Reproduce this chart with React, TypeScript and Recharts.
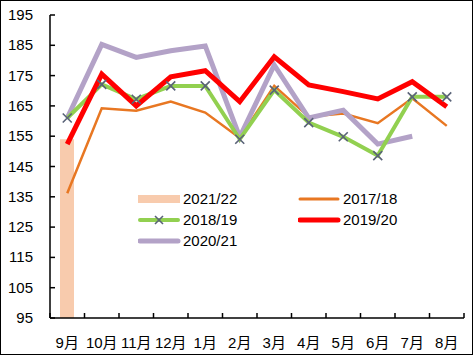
import React from "react";
import {
  ComposedChart,
  Bar,
  Line,
  XAxis,
  YAxis,
} from "recharts";

const months = ["9月", "10月", "11月", "12月", "1月", "2月", "3月", "4月", "5月", "6月", "7月", "8月"];
const s2122 = [154, null, null, null, null, null, null, null, null, null, null, null];
const s1718 = [136.2, 164.2, 163.4, 166.4, 162.8, 154.4, 171.6, 161.4, 162.5, 159.3, 167.5, 158.4];
const s1819 = [161, 172.1, 167.2, 171.6, 171.6, 154, 170.2, 159.5, 154.8, 148.6, 168, 168];
const s1920 = [152.4, 175.5, 165, 174.6, 176.6, 166.4, 181.2, 171.9, 169.7, 167.3, 173, 164.7];
const s2021 = [161, 185.3, 181, 183.2, 184.8, 154.7, 178.5, 161, 163.6, 152.4, 155, null];
const yTicks = [95, 105, 115, 125, 135, 145, 155, 165, 175, 185, 195];

const data = months.map((m, i) => ({
  month: m,
  "2021/22": s2122[i],
  "2017/18": s1718[i],
  "2018/19": s1819[i],
  "2019/20": s1920[i],
  "2020/21": s2021[i],
}));

const FONT = "'Liberation Sans', 'Noto Sans CJK SC', sans-serif";
const MARKER = "#5A6378";

const XMark = ({ cx, cy, size = 4.5 }: any) => {
  if (cx == null || cy == null) return null;
  return (
    <path
      d={`M${cx - size},${cy - size}L${cx + size},${cy + size}M${cx - size},${cy + size}L${cx + size},${cy - size}`}
      stroke={MARKER}
      strokeWidth={1.6}
      fill="none"
    />
  );
};

const XTick = (props: any) => {
  const { x, y, payload, index, visibleTicksCount, width } = props;
  const half = payload.offset ?? (width && visibleTicksCount ? width / visibleTicksCount / 2 : 17);
  return (
    <g>
      <line x1={x - half} x2={x - half} y1={y} y2={y - 5} stroke="#000" strokeWidth={1.5} />
      {index === visibleTicksCount - 1 && (
        <line x1={x + half} x2={x + half} y1={y} y2={y - 5} stroke="#000" strokeWidth={1.5} />
      )}
      <text x={x} y={y + 30} textAnchor="middle" fontSize={15} fontFamily={FONT} fill="#000">
        {payload.value}
      </text>
    </g>
  );
};

const YTick = (props: any) => {
  const { x, y, payload } = props;
  return (
    <g>
      <line x1={x} x2={x + 5} y1={y} y2={y} stroke="#000" strokeWidth={1.5} />
      <text x={x - 17} y={y + 5} textAnchor="end" fontSize={15} fontFamily={FONT} fill="#000">
        {payload.value}
      </text>
    </g>
  );
};

const legendItems = [
  { name: "2021/22", left: 138, top: 199, kind: "bar", color: "#F8CBAD", w: 8 },
  { name: "2017/18", left: 298, top: 199, kind: "line", color: "#E87722", w: 3 },
  { name: "2018/19", left: 138, top: 220, kind: "marker", color: "#92D050", w: 4 },
  { name: "2019/20", left: 298, top: 220, kind: "line", color: "#FF0000", w: 5 },
  { name: "2020/21", left: 138, top: 241, kind: "line", color: "#B3A2C7", w: 5 },
];

const ChartLegend = () => (
  <div style={{ position: "absolute", left: 0, top: 0, width: 473, height: 355, pointerEvents: "none" }}>
    {legendItems.map((it) => (
      <div key={it.name} style={{ position: "absolute", left: it.left, top: it.top - 10, height: 20 }}>
        <svg width={44} height={20} style={{ position: "absolute", left: 0, top: 0 }}>
          {it.kind === "bar" ? (
            <rect x={0} y={10 - it.w / 2} width={42} height={it.w} fill={it.color} />
          ) : (
            <line x1={2} x2={40} y1={10} y2={10} stroke={it.color} strokeWidth={it.w} strokeLinecap="round" />
          )}
          {it.kind === "marker" && <XMark cx={21} cy={10} size={4} />}
        </svg>
        <span
          style={{
            position: "absolute",
            left: 45,
            top: 0,
            lineHeight: "20px",
            fontSize: 15,
            fontFamily: FONT,
            color: "#000",
            whiteSpace: "nowrap",
          }}
        >
          {it.name}
        </span>
      </div>
    ))}
  </div>
);

export default function App() {
  return (
    <div style={{ position: "absolute", left: 0, top: 0, width: 473, height: 355, background: "#fff" }}>
      <ComposedChart
        width={473}
        height={355}
        data={data}
        margin={{ top: 15, right: 9, left: 0, bottom: 0 }}
      >
        <XAxis
          dataKey="month"
          height={37}
          axisLine={{ stroke: "#000", strokeWidth: 1.5 }}
          tickLine={false}
          tickSize={0}
          tickMargin={0}
          interval={0}
          tick={<XTick />}
        />
        <YAxis
          domain={[95, 195]}
          ticks={yTicks}
          width={50}
          axisLine={{ stroke: "#000", strokeWidth: 1.5 }}
          tickLine={false}
          tickSize={0}
          tickMargin={0}
          interval={0}
          tick={<YTick />}
        />
        <Bar dataKey="2021/22" fill="#F8CBAD" barSize={14} isAnimationActive={false} />
        <Line dataKey="2017/18" stroke="#E87722" strokeWidth={2.5} dot={false} isAnimationActive={false} />
        <Line dataKey="2020/21" stroke="#B3A2C7" strokeWidth={5} dot={false} isAnimationActive={false} />
        <Line
          dataKey="2018/19"
          stroke="#92D050"
          strokeWidth={4}
          dot={(p: any) => <XMark key={p.index} cx={p.cx} cy={p.cy} />}
          isAnimationActive={false}
        />
        <Line dataKey="2019/20" stroke="#FF0000" strokeWidth={5} dot={false} isAnimationActive={false} />
      </ComposedChart>
      <ChartLegend />
      <div
        style={{
          position: "absolute",
          left: 0,
          top: 0,
          width: 473,
          height: 355,
          boxSizing: "border-box",
          border: "1px solid #000",
          pointerEvents: "none",
        }}
      />
    </div>
  );
}
